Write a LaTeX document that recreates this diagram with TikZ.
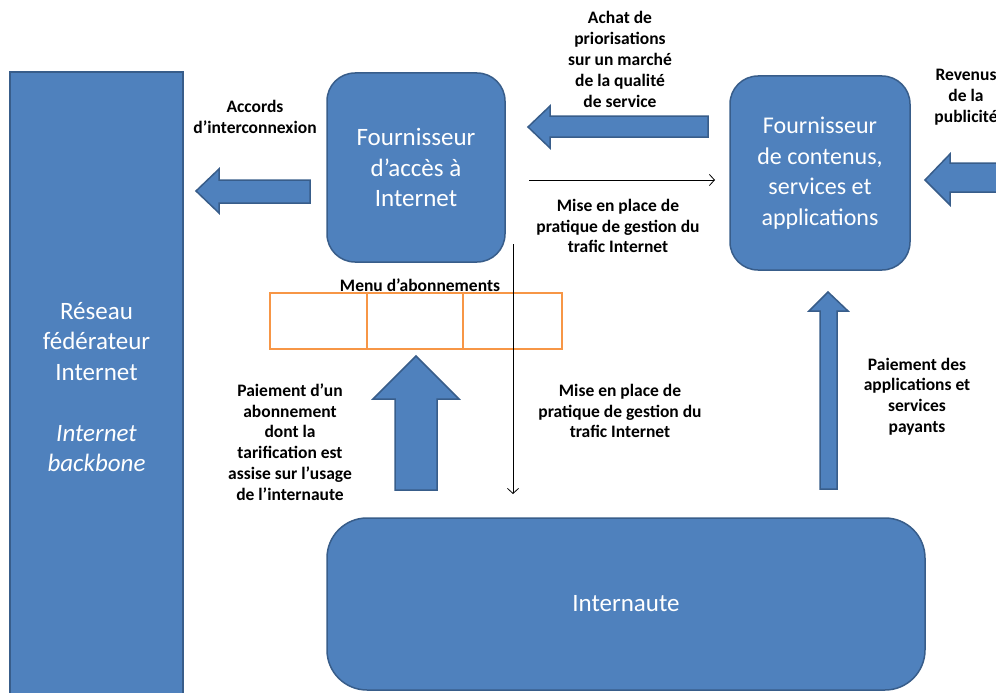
\documentclass[tikz,border=0pt]{standalone}
\usepackage{fontspec}
\setmainfont{Carlito}
\usetikzlibrary{arrows.meta}
\definecolor{blu}{HTML}{4F81BD}
\definecolor{bluline}{HTML}{385D8A}
\definecolor{orng}{HTML}{F79646}
\begin{document}
\begin{tikzpicture}[x=1pt,y=-1pt]
\tikzset{
 blk/.style={fill=blu, draw=bluline, line width=1.5pt},
 box/.style={blk, rounded corners=28pt, align=center, text=white, font=\fontsize{25}{30.5}\selectfont, inner sep=0pt},
 lbl/.style={align=center, font=\bfseries\fontsize{17.5}{20.8}\selectfont, inner sep=0pt},
 thinarrow/.style={-{Straight Barb[length=5pt,width=11pt]}, line width=0.8pt},
 cell/.style={draw=orng, line width=2pt, minimum height=56pt, inner sep=0pt}
}
\path[use as bounding box] (0,0) rectangle (996,693);
\clip (0,0) rectangle (996,693);
% main boxes
\node[box, rounded corners=0pt, minimum width=173pt, minimum height=630pt] (bb) at (96.5,387)
 {Réseau\\fédérateur\\Internet\\[30.5pt]\textit{Internet}\\\textit{backbone}};
\node[box, minimum width=178pt, minimum height=189pt] (fai) at (416,167.5)
 {Fournisseur\\d’accès à\\Internet};
\node[box, font=\fontsize{24}{30.5}\selectfont, minimum width=180pt, minimum height=194pt] (fcsa) at (820,173)
 {Fournisseur\\de contenus,\\services et\\applications};
\node[box, rounded corners=40pt, minimum width=598pt, minimum height=172pt] (inter) at (626,604)
 {Internaute};
% block arrows
\path[blk] (310,180) -- (219,180) -- (219,169) -- (196,191) -- (219,213) -- (219,203) -- (310,203) -- cycle;
\path[blk] (708,116) -- (550,116) -- (550,106) -- (528,127) -- (550,148) -- (550,137) -- (708,137) -- cycle;
\path[blk] (1000,163) -- (950,163) -- (950,154) -- (925,180) -- (950,205) -- (950,192) -- (1000,192) -- cycle;
\path[blk] (395,490) -- (395,399) -- (373,399) -- (416,356) -- (459,399) -- (437,399) -- (437,490) -- cycle;
\path[blk] (820,489) -- (820,311) -- (809,311) -- (828,292) -- (848,311) -- (837,311) -- (837,489) -- cycle;
% subscription menu
\node[cell, minimum width=97pt] (c1) at (318.5,321) {};
\node[cell, minimum width=96pt] (c2) at (415,321) {};
\node[cell, minimum width=99pt] (c3) at (512.5,321) {};
% thin arrows
\coordinate (h1) at (529,180);
\coordinate (h2) at (715,180);
\draw[thinarrow] (h1) -- (h2);
\coordinate (v1) at (513,244);
\coordinate (v2) at (513,494);
\draw[thinarrow] (v1) -- (v2);
% labels
\node[lbl] (lacc) at (255,117) {Accords\\d’interconnexion};
\node[lbl] (lach) at (620,59.5) {Achat de\\priorisations\\sur un marché\\de la qualité\\de service};
\node[lbl] (lmise1) at (618,226) {Mise en place de\\pratique de gestion du\\trafic Internet};
\node[lbl] (lrev) at (966,97) {Revenus\\de la\\publicité};
\node[lbl] (lmenu) at (420,285) {Menu d’abonnements};
\node[lbl] (lpaie) at (290,442) {Paiement d’un\\abonnement\\dont la\\tarification est\\assise sur l’usage\\de l’internaute};
\node[lbl] (lmise2) at (620,411) {Mise en place de\\pratique de gestion du\\trafic Internet};
\node[lbl] (lapp) at (917,396.5) {Paiement des\\applications et\\services\\payants};
\end{tikzpicture}
\end{document}
